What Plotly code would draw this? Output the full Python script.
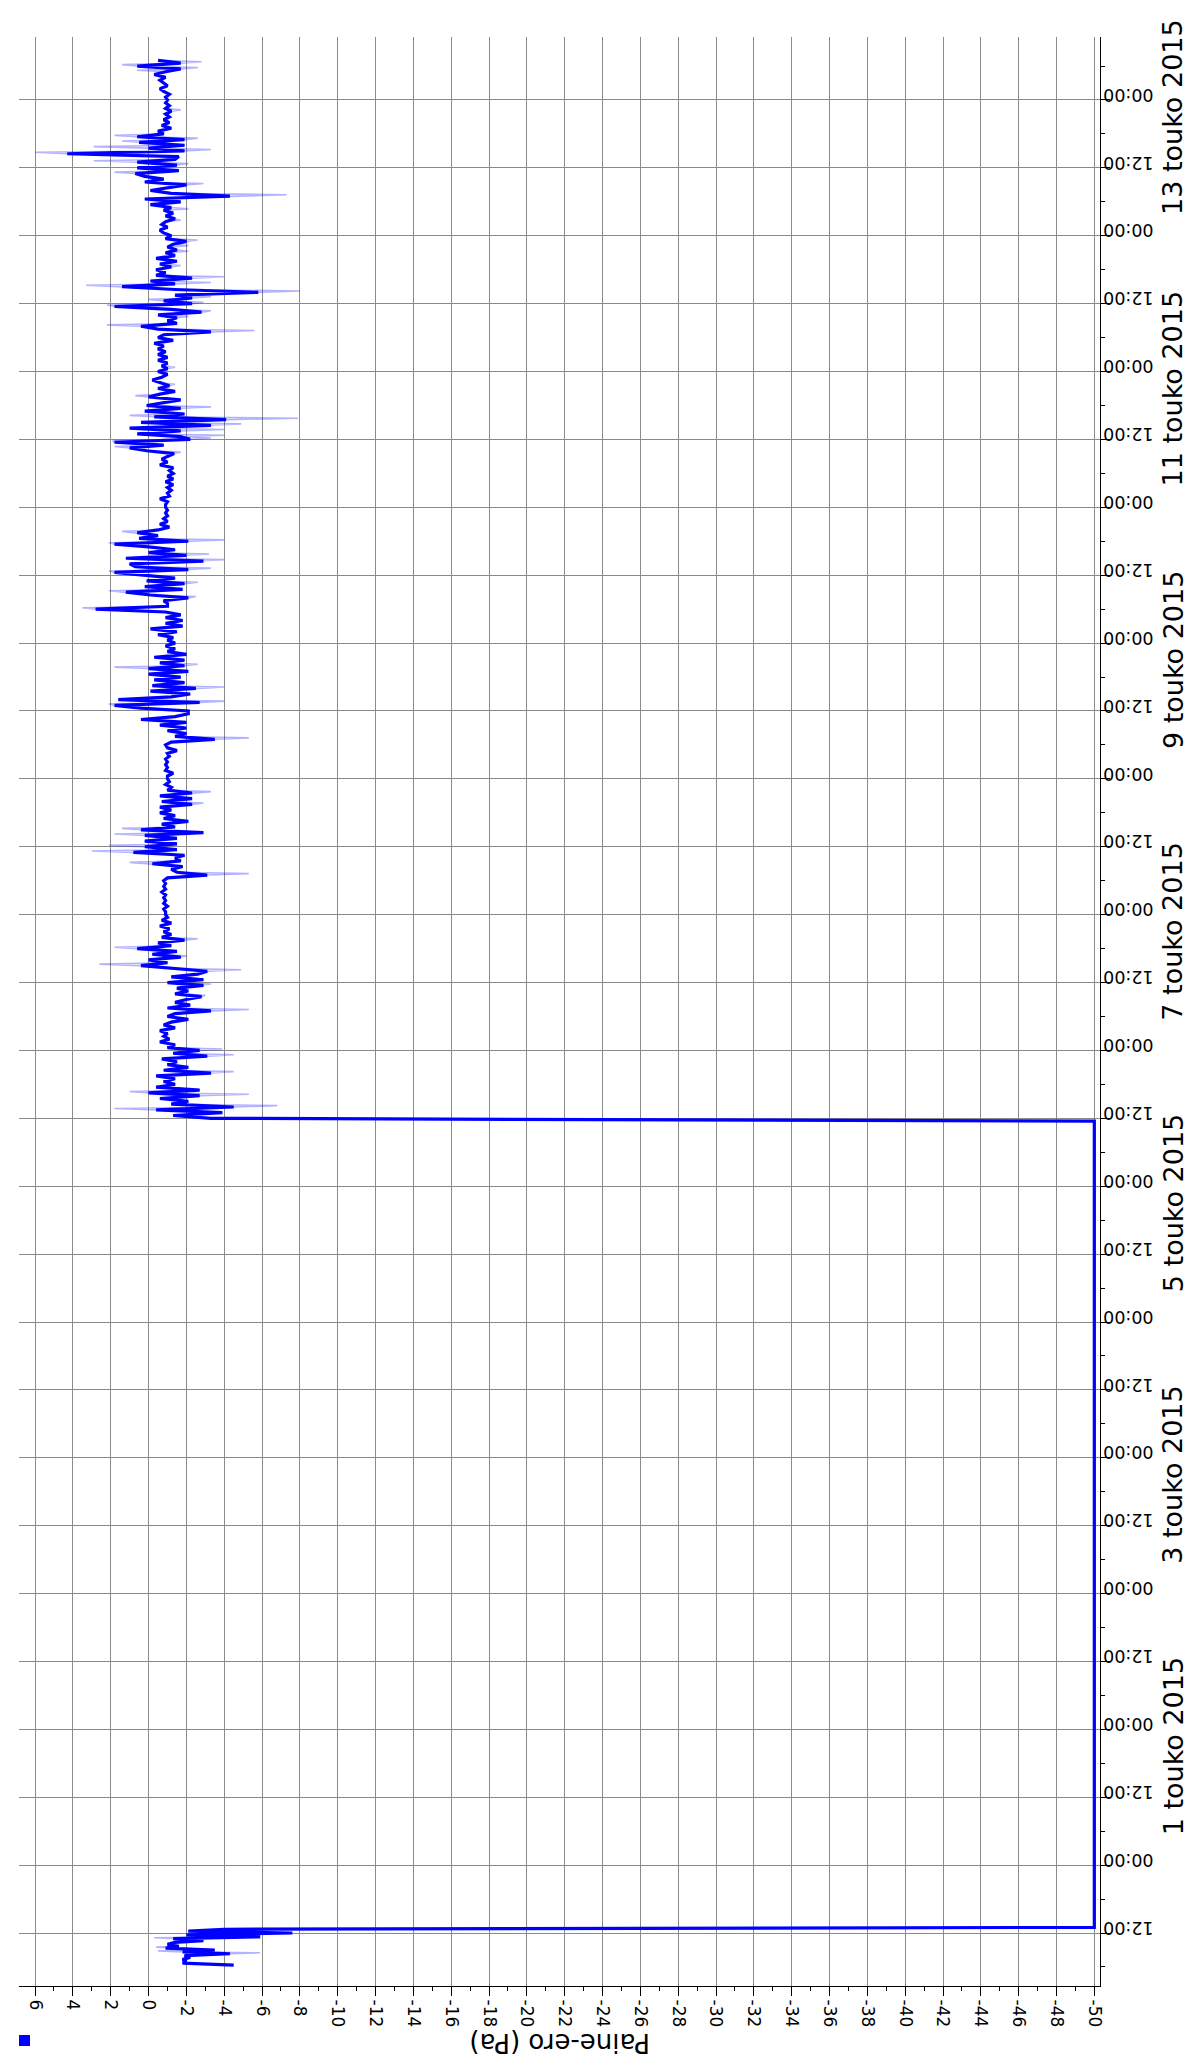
import pandas as pd
import plotly.graph_objects as go

# ---------------- data ----------------
# 29 April 2015 morning, 20-minute samples (Pa)
seg1_start = "2015-04-29 06:20"
seg1_mean = [-4.5, -1.8, -2.0, -1.8, -2.2, -1.9, -4.3, -1.8, -3.5, -0.9,
             -1.6, -1.0, -1.4, -2.9, -1.3, -5.9, -2.0, -7.6, -2.1, -4.0]
# raw-reading extremes in that stretch (minutes after seg1_start, Pa)
seg1_spike_min = [130, 150, 190, 290]
seg1_spike_val = [-5.9, -0.5, -0.4, -0.3]

# sensor pinned at the bottom of its range
offline_value = -50.0
offline_start = "2015-04-29 13:00"
offline_end = "2015-05-05 11:30"

# from 5 May 2015 12:00, 30-minute samples (Pa), one list per half day
main_start = "2015-05-05 12:00"
pa_05_pm = [-3.3, -1.3, -3.9, -0.4, -4.5, -1.2, -2.1, -0.6, -2.7, 0.0, -2.7, -0.4,
            -1.4, -0.8, -1.4, -0.4, -3.3, -0.8, -2.1, -1.0, -1.5, -0.7, -3.1, -1.3]
pa_06_am = [-2.7, -1.0, -1.4, -0.6, -1.1, -0.8, -1.0, -0.6, -1.4, -0.8, -1.2, -2.1,
            -1.0, -1.4, -3.3, -1.0, -2.2, -1.4, -2.0, -2.8, -1.4, -2.1, -1.5, -2.9]
pa_06_pm = [-1.0, -2.9, -1.2, -2.6, -3.1, -1.2, 0.4, -1.0, 0.0, -1.7, -0.2, -1.5,
            0.6, -1.2, -0.5, -1.9, -0.7, -1.2, -0.8, -1.1, -0.6, -1.2, -0.7, -1.0]
pa_07_am = [-0.9, -0.9, -0.8, -1.0, -0.8, -0.9, -0.8, -0.9, -0.7, -0.9, -0.8, -0.9,
            -0.8, -1.0, -3.1, -1.5, -1.2, -1.8, -0.2, -1.7, -1.4, -1.9, 0.8, -1.5]
pa_07_pm = [0.2, -1.5, 0.2, -1.5, 0.2, -2.9, 0.4, -1.4, -0.7, -2.1, -0.8, -1.4,
            -0.6, -1.2, -0.6, -2.3, -0.7, -2.3, -0.6, -2.3, -1.0, -1.2, -0.9, -1.1]
pa_08_am = [-1.0, -1.0, -1.3, -0.9, -1.0, -0.9, -1.0, -0.9, -1.1, -1.0, -1.5, -1.0,
            -0.9, -1.2, -3.5, -1.4, -2.0, -1.0, -2.0, -0.6, -2.0, 0.4, -1.4, -2.1]
pa_08_pm = [-2.1, 0.4, 1.8, -2.7, 1.6, -1.2, -2.2, -0.1, -2.5, -0.2, -1.9, -0.3,
            -1.7, 0.0, -2.1, 0.0, -1.9, -0.6, -1.9, -0.3, -2.0, -1.0, -1.4, -0.9]
pa_09_am = [-1.4, -1.0, -1.3, -0.5, -1.5, -0.1, -1.8, -0.9, -1.8, -0.9, -1.7, -0.9,
            2.8, -1.0, -1.0, -0.8, -2.1, -0.1, 1.2, -1.8, 0.2, -1.9, 0.1, -1.4]
pa_09_pm = [0.4, 1.8, -2.1, 0.7, 1.0, -2.9, 1.2, -2.0, 0.0, -1.4, 0.0, 1.8,
            -2.1, 0.5, -0.5, 0.6, -0.5, -1.1, -0.6, -1.0, -0.8, -1.0, -0.9, -1.0]
pa_10_am = [-0.9, -0.9, -1.0, -0.6, -1.1, -1.0, -1.2, -1.0, -1.3, -0.9, -1.3, -1.0,
            -1.3, -1.1, -1.3, -0.6, -1.0, -0.7, -1.0, -1.35, 0.1, 1.0, -0.8, 1.8]
pa_10_pm = [-2.2, -1.7, 0.6, -1.7, 1.0, -3.3, 0.4, -4.1, -0.3, -1.9, 0.2, -1.7,
            0.1, -0.7, -1.7, 0.0, -0.6, -1.4, -0.5, -1.1, -0.6, -0.2, -0.7, -1.0]
pa_11_am = [-0.5, -1.0, -0.7, -1.0, -0.5, -1.0, -0.5, -0.9, -0.5, -0.8, -0.3, -1.3,
            -0.5, -0.8, -3.3, -0.5, 0.4, -1.5, -1.0, -1.5, -0.5, -2.8, -1.2, 1.8]
pa_11_pm = [-2.3, -0.8, -2.3, -1.4, -5.8, -1.4, 1.4, -1.4, -0.1, -2.3, -0.4, -0.9,
            -0.4, -1.2, -0.6, -1.5, -0.4, -1.4, -0.9, -1.5, -1.0, -1.3, -2.0, -0.9]
pa_12_am = [-1.2, -0.8, -0.6, -1.0, -0.7, -0.9, -1.4, -0.9, -1.3, -0.8, -1.2, -0.1,
            -1.7, 0.2, -4.3, -1.2, -0.1, -1.1, -2.0, 0.2, -0.8, 0.2, 0.7, -1.6]
pa_12_pm = [0.6, -1.5, 0.6, -1.4, -1.6, 4.3, -1.9, 0.0, -1.9, 0.5, -1.9, 0.6,
            -0.8, -0.5, -1.2, -0.7, -1.1, -0.8, -1.1, -0.9, -1.2, -0.9, -1.1, -0.9]
pa_13_am = [-1.0, -0.9, -1.1, -0.8, -0.6, -1.0, -0.8, -0.6, -0.9, -0.3, -0.9, -1.7,
            0.6, -1.7, -0.5]

# raw-reading extremes (hours after main_start, Pa)
spike_hours = [1.5, 2, 4, 4.5, 8, 11, 12, 19, 21.5, 23.5,
               26, 27, 28.5, 30, 31.5, 43, 45, 47, 48, 50,
               51, 55.5, 57.5, 67, 73, 73.5, 76, 79.5, 80, 90,
               92, 93, 94.5, 96.5, 97, 98.5, 99.5, 101.5, 102, 103.5,
               117.5, 118.5, 119.5, 120, 120.5, 121.5, 122.5, 123.5, 124, 125.5,
               127.5, 129.5, 132.5, 139, 140, 141.5, 142.5, 143.5, 144, 144.5,
               145, 146, 147, 147.5, 148.5, 150.5, 153, 154, 155, 158.5,
               160.5, 163, 165, 167, 168.5, 169, 170.5, 171, 171.5, 172.5,
               173, 173.5, 178, 185, 185.5, 186, 186.5]
spike_vals = [1.8, -6.8, -5.3, 1.0, -4.5, -4.5, -3.9, -5.3, -3.0, -3.3,
              -4.9, 2.6, -2.0, 1.8, -2.6, -5.3, 1.0, 3.0, 2.1, 1.8,
              1.4, -2.9, -3.3, -5.3, 2.1, -4.0, -4.0, 1.8, -2.6, 3.5,
              -2.5, 2.1, -2.6, 2.1, -3.3, -4.0, -3.2, 2.1, -4.0, 1.4,
              -1.7, 1.8, 1.9, -3.3, -4.0, -4.0, -4.9, -7.9, 1.0, -3.3,
              0.7, -1.4, -1.4, -5.6, 2.2, -2.1, -3.3, 2.2, -2.9, 0.0,
              -3.3, -8.0, 3.3, -3.3, -4.0, -1.7, -2.1, -2.1, -2.6, -1.7,
              -2.1, -7.3, -2.9, 1.8, -2.1, 2.9, 6.0, -3.3, 2.9, 1.4,
              -2.6, 1.8, -1.7, 0.6, -2.6, 1.4, -2.8]

x_tick_values = [6, 4, 2, 0, -2, -4, -6, -8, -10, -12, -14, -16, -18, -20, -22, -24,
                 -26, -28, -30, -32, -34, -36, -38, -40, -42, -44, -46, -48, -50]
date_labels = ["1 touko 2015", "3 touko 2015", "5 touko 2015", "7 touko 2015",
               "9 touko 2015", "11 touko 2015", "13 touko 2015"]
date_label_pos = ["2015-05-01", "2015-05-03", "2015-05-05", "2015-05-07",
                  "2015-05-09", "2015-05-11", "2015-05-13"]
axis_title = "Paine-ero (Pa)"

# ---------------- assemble ----------------
main_mean = (pa_05_pm + pa_06_am + pa_06_pm + pa_07_am + pa_07_pm + pa_08_am +
             pa_08_pm + pa_09_am + pa_09_pm + pa_10_am + pa_10_pm + pa_11_am +
             pa_11_pm + pa_12_am + pa_12_pm + pa_13_am)
t_seg1 = list(pd.date_range(seg1_start, periods=len(seg1_mean), freq="20min"))
t_main = list(pd.date_range(main_start, periods=len(main_mean), freq="30min"))
t_off = [pd.Timestamp(offline_start), pd.Timestamp(offline_end)]

times = t_seg1 + t_off + t_main
mean_vals = seg1_mean + [offline_value, offline_value] + main_mean

# raw trace: the averaged readings plus the extreme readings in between
raw_pts = list(zip(times, mean_vals))
s1 = pd.Timestamp(seg1_start)
raw_pts += [(s1 + pd.Timedelta(minutes=m), v) for m, v in zip(seg1_spike_min, seg1_spike_val)]
m0 = pd.Timestamp(main_start)
raw_pts += [(m0 + pd.Timedelta(hours=h) + pd.Timedelta(minutes=15), v)
            for h, v in zip(spike_hours, spike_vals)]
raw_pts.sort(key=lambda p: p[0])
raw_times = [p[0] for p in raw_pts]
raw_vals = [p[1] for p in raw_pts]

# ---------------- figure ----------------
W, H = 1193, 2060
L, R, T, B = 11, 101, 29, 82
FONT = "DejaVu Sans"

fig = go.Figure()
fig.add_trace(go.Scatter(x=raw_vals, y=raw_times, mode="lines",
                         line=dict(color="rgba(0,0,255,0.30)", width=1.6),
                         hoverinfo="skip", showlegend=False))
fig.add_trace(go.Scatter(x=mean_vals, y=times, mode="lines",
                         line=dict(color="#0000ff", width=3.2),
                         showlegend=False))

grid = "#8a8a8a"
fig.update_layout(
    width=W, height=H,
    margin=dict(l=L, r=R, t=T, b=B, pad=0),
    paper_bgcolor="white", plot_bgcolor="white",
    font=dict(family=FONT, color="black", size=17),
    showlegend=False,
    xaxis=dict(
        range=[6.85, -50.3],
        tickmode="array", tickvals=x_tick_values,
        ticktext=[str(v) for v in x_tick_values], tickangle=90,
        ticks="outside", ticklen=9, tickcolor="black",
        minor=dict(dtick=1, tick0=0, ticks="outside", ticklen=4, tickcolor="black",
                   showgrid=False),
        showgrid=True, gridcolor=grid, gridwidth=1, zeroline=False,
        showline=True, linecolor="black", linewidth=1.2,
        tickfont=dict(size=17, family=FONT),
    ),
    yaxis=dict(
        type="date", side="right",
        range=["2015-04-29 02:38", "2015-05-13 11:08"],
        tick0="2015-04-29 00:00", dtick=12 * 3600 * 1000,
        tickformat="%H:%M", tickangle=180, ticklabelstandoff=40,
        ticks="outside", ticklen=9, tickcolor="black",
        minor=dict(dtick=6 * 3600 * 1000, ticks="outside", ticklen=4,
                   tickcolor="black", showgrid=False),
        showgrid=True, gridcolor=grid, gridwidth=1, zeroline=False,
        showline=True, linecolor="black", linewidth=1.2,
        tickfont=dict(size=17.5, family=FONT),
    ),
)

plot_w = W - L - R
plot_h = H - T - B
for lab, pos in zip(date_labels, date_label_pos):
    fig.add_annotation(x=(1165 - L) / plot_w, xref="paper",
                       y=pd.Timestamp(pos) - pd.Timedelta(hours=3), yref="y",
                       text=lab, showarrow=False, textangle=-90,
                       font=dict(size=27, family=FONT, color="black"),
                       xanchor="center", yanchor="middle")

fig.add_annotation(x=0.5, xref="paper", y=(H - B - 2035) / plot_h, yref="paper",
                   text=axis_title, showarrow=False, textangle=180,
                   font=dict(size=26, family=FONT, color="black"),
                   xanchor="center", yanchor="middle")

# legend swatch
fig.add_shape(type="rect", xref="paper", yref="paper",
              x0=(11 - L) / plot_w, x1=(22 - L) / plot_w,
              y0=(H - B - 2027) / plot_h, y1=(H - B - 2038) / plot_h,
              fillcolor="#0000ff", line=dict(width=0))

fig.write_html("out.html")
